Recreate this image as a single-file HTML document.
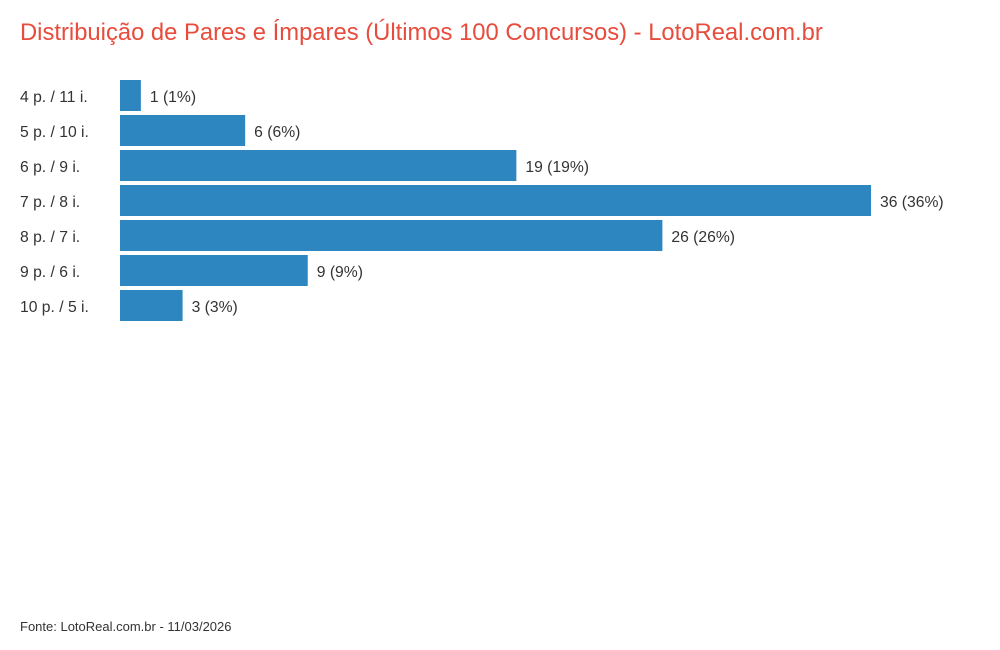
<!DOCTYPE html>
<html><head><meta charset="utf-8"><style>
html,body{margin:0;padding:0;background:#fff;width:1000px;height:650px;overflow:hidden;font-family:"Liberation Sans",Arial,sans-serif}
</style></head><body>
<svg width="1000" height="650" xmlns="http://www.w3.org/2000/svg">
<text x="20" y="40" font-size="23.8" fill="#e74c3c" font-family="Liberation Sans, sans-serif">Distribuição de Pares e Ímpares (Últimos 100 Concursos) - LotoReal.com.br</text>
<g id="bars"></g>
<text x="20" y="631" font-size="13" fill="#333" font-family="Liberation Sans, sans-serif">Fonte: LotoReal.com.br - 11/03/2026</text>
</svg>
<script>
const categories = ["4 p. / 11 i.","5 p. / 10 i.","6 p. / 9 i.","7 p. / 8 i.","8 p. / 7 i.","9 p. / 6 i.","10 p. / 5 i."];
const values = [1,6,19,36,26,9,3];
const percents = ["1%","6%","19%","36%","26%","9%","3%"];
const NS="http://www.w3.org/2000/svg";
const g=document.getElementById('bars');
const x0=120, unit=751/36;
function xScale(v){return x0+v*unit;}
function yScale(i){return 80+i*35;}
categories.forEach((c,i)=>{
  const y=yScale(i);
  const lab=document.createElementNS(NS,'text');
  
  
  lab.setAttribute('x',20);lab.setAttribute('y',y+22);
  lab.setAttribute('font-size','15.7');lab.setAttribute('fill','#333');
  lab.textContent=c;g.appendChild(lab);
  const r=document.createElementNS(NS,'rect');
  
  
  r.setAttribute('x',x0);r.setAttribute('y',y);
  r.setAttribute('width',xScale(values[i])-x0);r.setAttribute('height',31);
  r.setAttribute('fill','#2e86c1');g.appendChild(r);
  const v=document.createElementNS(NS,'text');
  
  
  v.setAttribute('x',xScale(values[i])+9);v.setAttribute('y',y+22);
  v.setAttribute('font-size','15.7');v.setAttribute('fill','#333');
  v.textContent=values[i]+' ('+percents[i]+')';g.appendChild(v);
});
</script>
</body></html>
